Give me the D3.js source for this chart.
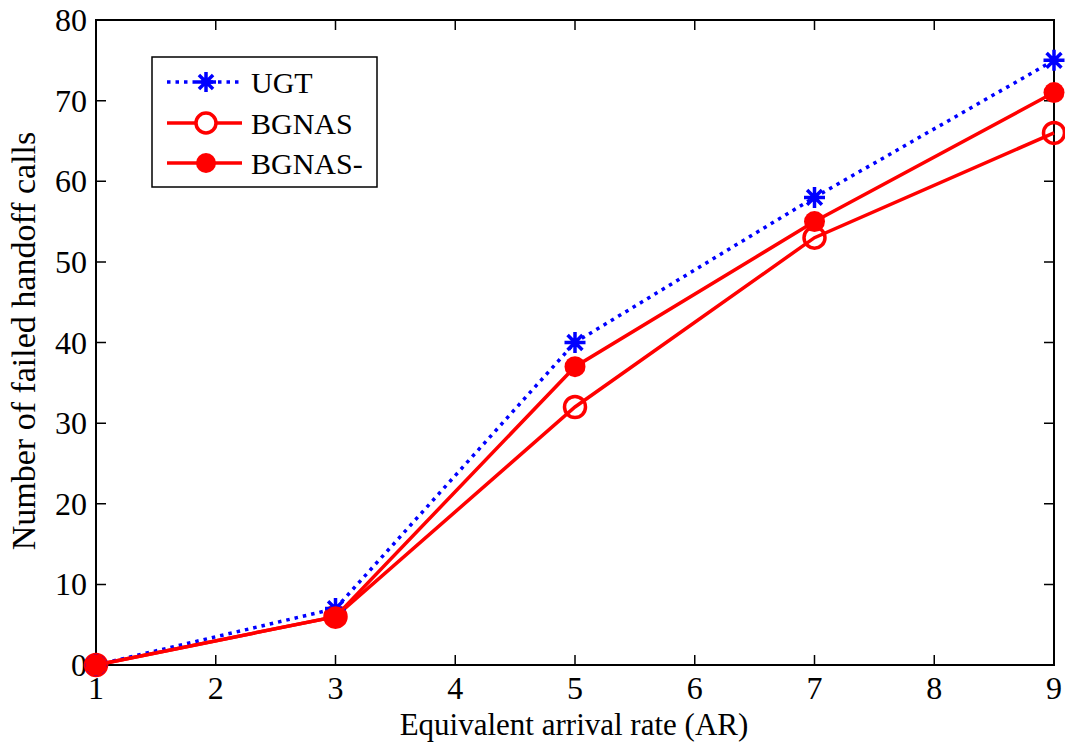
<!DOCTYPE html>
<html>
<head>
<meta charset="utf-8">
<script src="https://cdn.jsdelivr.net/npm/d3@7"></script>
<style>
  body { margin: 0; background: #fff; }
  svg text { font-family: "Liberation Serif", "Times New Roman", serif; fill: #000; }
</style>
</head>
<body>
<svg width="1065" height="744"></svg>
<script>
// data
var xValues = [1, 3, 5, 7, 9]
var ugt = [0, 7, 40, 58, 75]
var bgnas = [0, 6, 32, 53, 66]
var bgnasMinus = [0, 6, 37, 55, 71]
var xTicks = [1, 2, 3, 4, 5, 6, 7, 8, 9]
var yTicks = [0, 10, 20, 30, 40, 50, 60, 70, 80]
var seriesNames = ['UGT', 'BGNAS', 'BGNAS-']

var svg = d3.select('svg')
var plotL = 96, plotR = 1054, plotT = 20, plotB = 665

var x = d3.scaleLinear().domain([1, 9]).range([plotL, plotR])
var y = d3.scaleLinear().domain([0, 80]).range([plotB, plotT])

// ticks pointing inward on all four sides
var tickLen = 10
var axisG = svg.append('g')
axisG.selectAll('.xt').data(xTicks).enter().append('path')
  .attr('d', d => 'M' + x(d) + ',' + plotB + 'v' + (-tickLen) + 'M' + x(d) + ',' + plotT + 'v' + tickLen)
  .attr('stroke', '#000').attr('stroke-width', 1.5)
axisG.selectAll('.yt').data(yTicks).enter().append('path')
  .attr('d', d => 'M' + plotL + ',' + y(d) + 'h' + tickLen + 'M' + plotR + ',' + y(d) + 'h' + (-tickLen))
  .attr('stroke', '#000').attr('stroke-width', 1.5)

// frame
svg.append('rect')
  .attr('x', plotL).attr('y', plotT)
  .attr('width', plotR - plotL).attr('height', plotB - plotT)
  .attr('fill', 'none').attr('stroke', '#000').attr('stroke-width', 2)

// tick labels
axisG.selectAll('.xl').data(xTicks).enter().append('text')
  .attr('x', d => x(d)).attr('y', 699)
  .attr('text-anchor', 'middle').attr('font-size', 32)
  .text(d => d)
axisG.selectAll('.yl').data(yTicks).enter().append('text')
  .attr('x', 87).attr('y', d => y(d) + 11)
  .attr('text-anchor', 'end').attr('font-size', 32)
  .text(d => d)

// axis titles
svg.append('text')
  .attr('x', 574).attr('y', 735)
  .attr('text-anchor', 'middle').attr('font-size', 31)
  .text('Equivalent arrival rate (AR)')
svg.append('text')
  .attr('transform', 'translate(35,341) rotate(-90)')
  .attr('text-anchor', 'middle').attr('font-size', 34)
  .text('Number of failed handoff calls')

var line = d3.line().x((d, i) => x(xValues[i])).y(d => y(d))

function star(g, cx, cy, r, color) {
  var d = ''
  for (var k = 0; k < 4; k++) {
    var a = k * Math.PI / 4
    d += 'M' + (cx - r * Math.cos(a)) + ',' + (cy - r * Math.sin(a)) +
      'L' + (cx + r * Math.cos(a)) + ',' + (cy + r * Math.sin(a))
  }
  g.append('path').attr('d', d).attr('stroke', color).attr('stroke-width', 3.5)
}

var plot = svg.append('g')

// BGNAS (open circles)
plot.append('path').datum(bgnas)
  .attr('d', line).attr('fill', 'none')
  .attr('stroke', '#ff0000').attr('stroke-width', 3.5)
plot.selectAll('.o').data(bgnas).enter().append('circle')
  .attr('cx', (d, i) => x(xValues[i])).attr('cy', d => y(d)).attr('r', 10.5)
  .attr('fill', 'none').attr('stroke', '#ff0000').attr('stroke-width', 3.5)

// UGT (blue dotted with stars)
plot.append('path').datum(ugt)
  .attr('d', line).attr('fill', 'none')
  .attr('stroke', '#0000ff').attr('stroke-width', 3.5)
  .attr('stroke-dasharray', '3.5,5')
ugt.forEach((d, i) => star(plot, x(xValues[i]), y(d), 10.5, '#0000ff'))

// BGNAS- (filled circles)
plot.append('path').datum(bgnasMinus)
  .attr('d', line).attr('fill', 'none')
  .attr('stroke', '#ff0000').attr('stroke-width', 3.5)
plot.selectAll('.f').data(bgnasMinus).enter().append('circle')
  .attr('cx', (d, i) => x(xValues[i])).attr('cy', d => y(d)).attr('r', 10.5)
  .attr('fill', '#ff0000')

// legend
var lg = svg.append('g')
lg.append('rect')
  .attr('x', 152).attr('y', 57).attr('width', 225).attr('height', 130)
  .attr('fill', '#fff').attr('stroke', '#000').attr('stroke-width', 1.5)
var rowY = [82, 123, 163]
seriesNames.forEach(function(name, i) {
  var ly = rowY[i]
  var l = lg.append('line')
    .attr('x1', 167).attr('x2', 242).attr('y1', ly).attr('y2', ly)
    .attr('stroke-width', 3.5)
  if (i === 0) {
    l.attr('stroke', '#0000ff').attr('stroke-dasharray', '3.5,5')
    star(lg, 206, ly, 10, '#0000ff')
  } else {
    l.attr('stroke', '#ff0000')
    lg.append('circle').attr('cx', 206).attr('cy', ly).attr('r', 10)
      .attr('fill', i === 2 ? '#ff0000' : '#fff')
      .attr('stroke', '#ff0000').attr('stroke-width', i === 2 ? 0 : 3.5)
  }
  lg.append('text').attr('x', 251).attr('y', ly + 11)
    .attr('font-size', 30).text(name)
})
</script>
</body>
</html>
